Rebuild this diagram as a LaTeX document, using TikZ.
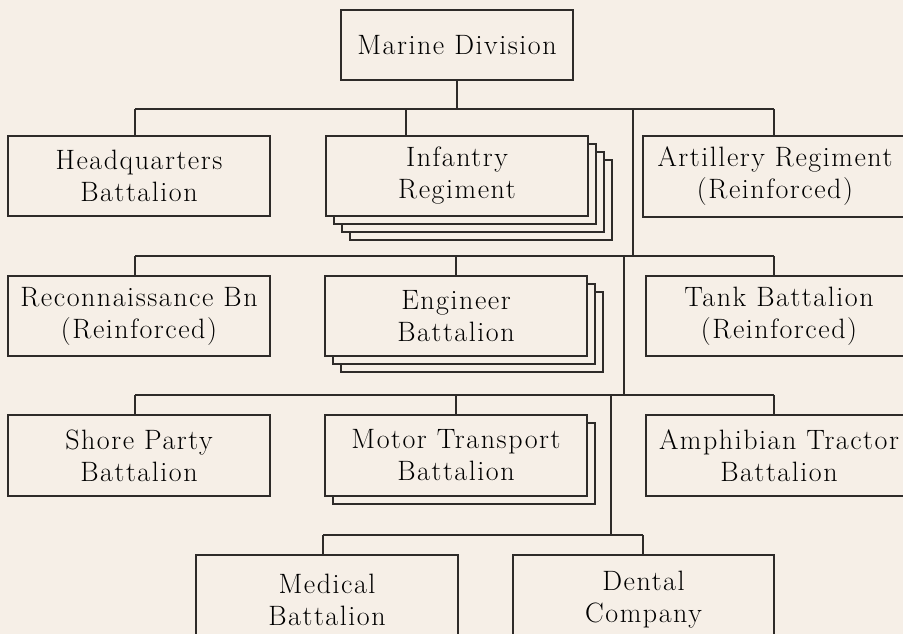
\documentclass[tikz,border=0pt]{standalone}
\usepackage{fontspec}
\setmainfont{Latin Modern Roman}[LetterSpace=5.5]
\definecolor{bg}{HTML}{F6EFE7}
\definecolor{ink}{HTML}{2E2B29}
\tikzset{
  org/.style={draw=ink, line width=1.3pt, fill=bg, align=center, inner sep=0pt,
    font=\fontsize{28}{32}\selectfont, text=black},
  backcopy/.style={draw=ink, line width=1.3pt, fill=bg},
  link/.style={draw=ink, line width=1.3pt},
}
\begin{document}
\begin{tikzpicture}[x=1pt,y=-1pt]
\fill[bg] (0,0) rectangle (903,634);
\useasboundingbox (0,0) rectangle (903,634);

% top
\node[org, minimum width=232pt, minimum height=70pt] (md) at (457,45) {Marine Division};

% row 1
\node[org, minimum width=262pt, minimum height=80pt] (hq) at (139,176) {Headquarters\\Battalion};
\foreach \k in {3,2,1}
  \draw[backcopy] (326+8*\k,136+8*\k) rectangle (588+8*\k,216+8*\k);
\node[org, minimum width=262pt, minimum height=80pt] (inf) at (457,176) {Infantry\\Regiment};
\node[org, minimum width=264pt, minimum height=81pt] (art) at (775,176.5) {Artillery Regiment\\(Reinforced)};

% row 2
\node[org, minimum width=262pt, minimum height=80pt] (rec) at (139,316) {Reconnaissance Bn\\(Reinforced)};
\foreach \k in {2,1}
  \draw[backcopy] (325+8*\k,276+8*\k) rectangle (587+8*\k,356+8*\k);
\node[org, minimum width=262pt, minimum height=80pt] (eng) at (456,316) {Engineer\\Battalion};
\node[org, minimum width=266pt, minimum height=80pt] (tank) at (779,316) {Tank Battalion\\(Reinforced)};

% row 3
\node[org, minimum width=262pt, minimum height=81pt] (shore) at (139,455.5) {Shore Party\\Battalion};
\draw[backcopy] (325+8,415+8) rectangle (587+8,496+8);
\node[org, minimum width=262pt, minimum height=81pt] (mt) at (456,455.5) {Motor Transport\\Battalion};
\node[org, minimum width=266pt, minimum height=81pt] (amph) at (779,455.5) {Amphibian Tractor\\Battalion};

% row 4
\node[org, minimum width=262pt, minimum height=90pt] (med) at (327,600) {Medical\\Battalion};
\node[org, minimum width=261pt, minimum height=90pt] (dent) at (643.5,600) {Dental\\Company};

% bar coordinates
\coordinate (r1l) at (135,109);
\coordinate (r1i) at (406,109);
\coordinate (r1r) at (774,109);
\coordinate (t1) at (633,109);
\coordinate (r2l) at (135,256);
\coordinate (r2r) at (774,256);
\coordinate (t1e) at (633,256);
\coordinate (t2) at (624,256);
\coordinate (r3l) at (135,395);
\coordinate (r3r) at (774,395);
\coordinate (t2e) at (624,395);
\coordinate (t3) at (611,395);
\coordinate (r4l) at (323,535);
\coordinate (r4r) at (643,535);
\coordinate (t3e) at (611,535);

% connectors
\draw[link] (md.south) -- (md.south |- r1l);
\draw[link] (r1l) -- (r1r);
\draw[link] (r1l) -- (r1l |- hq.north);
\draw[link] (r1i) -- (r1i |- inf.north);
\draw[link] (r1r) -- (r1r |- art.north);
\draw[link] (t1) -- (t1e);

\draw[link] (r2l) -- (r2r);
\draw[link] (r2l) -- (r2l |- rec.north);
\draw[link] (eng.north |- r2l) -- (eng.north);
\draw[link] (r2r) -- (r2r |- tank.north);
\draw[link] (t2) -- (t2e);

\draw[link] (r3l) -- (r3r);
\draw[link] (r3l) -- (r3l |- shore.north);
\draw[link] (mt.north |- r3l) -- (mt.north);
\draw[link] (r3r) -- (r3r |- amph.north);
\draw[link] (t3) -- (t3e);

\draw[link] (r4l) -- (r4r);
\draw[link] (r4l) -- (r4l |- med.north);
\draw[link] (r4r) -- (r4r |- dent.north);
\end{tikzpicture}
\end{document}
